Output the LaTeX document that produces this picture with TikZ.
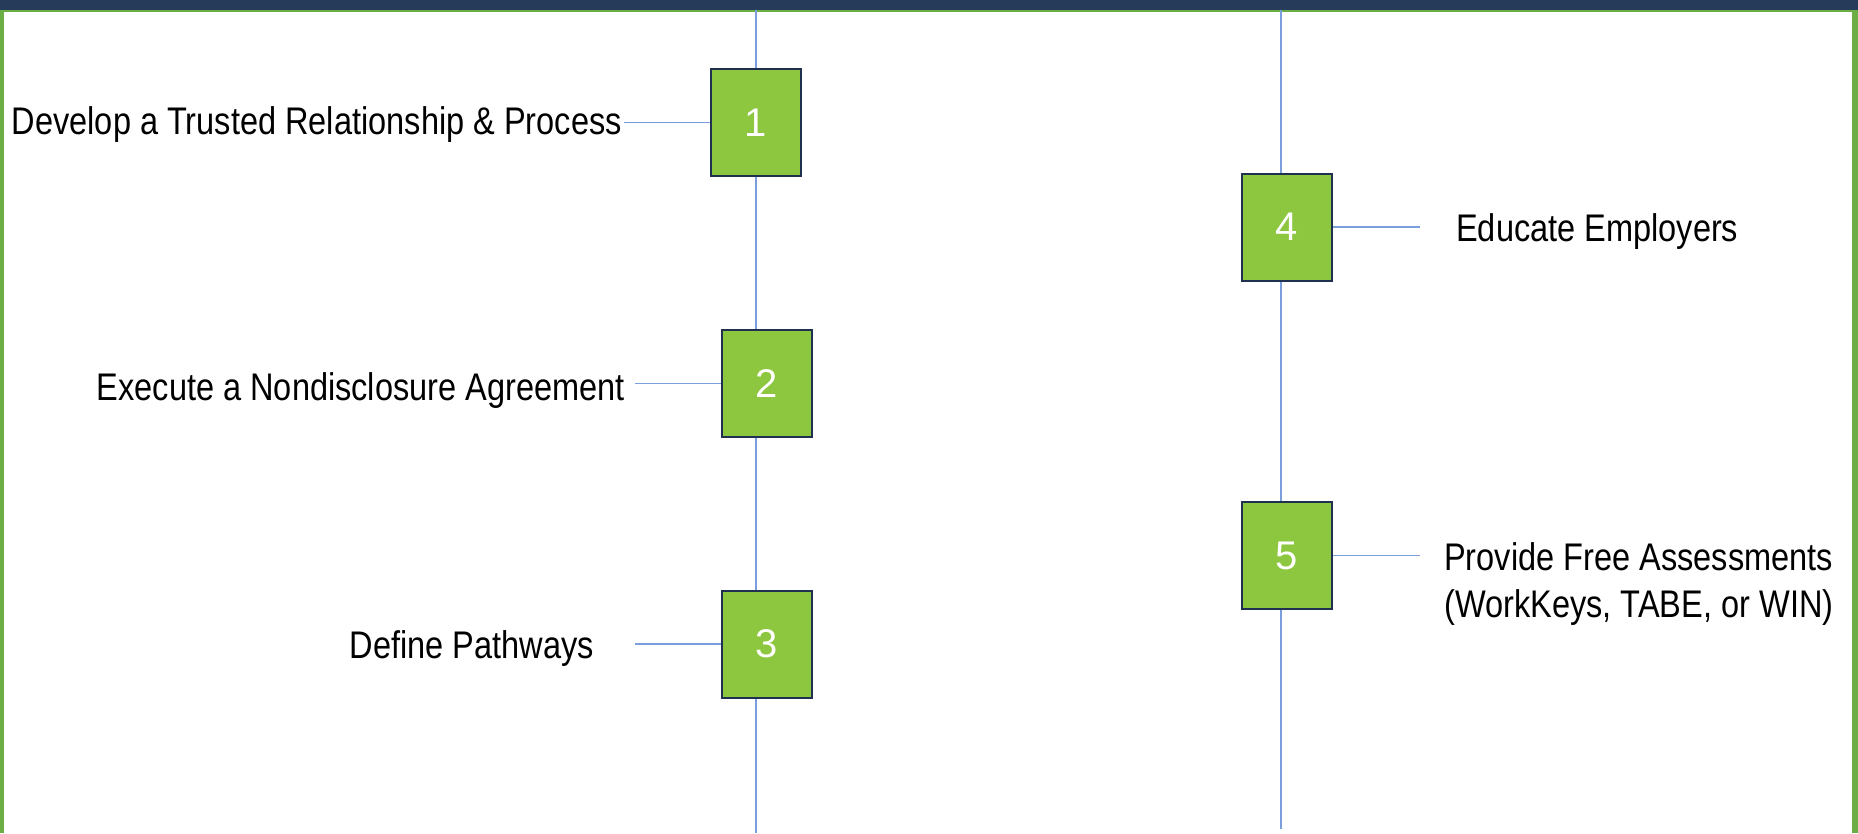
\documentclass[tikz,border=0pt]{standalone}
\usepackage{fontspec}
\setmainfont[FakeStretch=0.845]{Liberation Sans}
\newfontfamily\numfont{Liberation Sans}
\definecolor{navybar}{HTML}{263A5A}
\definecolor{framegreen}{HTML}{6AAE45}
\definecolor{boxfill}{HTML}{8DC63F}
\definecolor{boxedge}{HTML}{1F3050}
\definecolor{linkblue}{HTML}{7A9FDC}
\tikzset{
  stepbox/.style={draw=boxedge, line width=2pt, fill=boxfill, minimum width=90pt, minimum height=107pt, inner sep=0pt, text=white, font=\numfont\fontsize{40}{48}\selectfont},
  steptext/.style={inner sep=0pt, text=black, font=\fontsize{38.5}{47}\selectfont},
  link/.style={draw=linkblue, line width=1.3pt}
}
\begin{document}
\begin{tikzpicture}[x=1pt,y=-1pt]
\useasboundingbox (0,0) rectangle (1858,833);
\fill[white] (0,0) rectangle (1858,833);
\fill[navybar] (0,0) rectangle (1858,9.5);
\fill[framegreen] (0,9.5) rectangle (1858,12);
\fill[framegreen] (0,9.5) rectangle (3.5,833);
\fill[framegreen] (1852,9.5) rectangle (1858,833);
% timelines
\coordinate (v1top) at (756,9.5);
\coordinate (v1bot) at (756,833);
\coordinate (v2top) at (1281,9.5);
\coordinate (v2bot) at (1281,829);
\draw[link] (v1top) -- (v1bot);
\draw[link] (v2top) -- (v2bot);
% step boxes
\node[stepbox] (b1) at (756,122.5) {1};
\node[stepbox] (b2) at (766.5,383.5) {2};
\node[stepbox] (b3) at (766.5,644) {3};
\node[stepbox] (b4) at (1286.5,227) {4};
\node[stepbox] (b5) at (1286.5,555.5) {5};
% labels
\node[steptext, anchor=base east] (t1) at (622,134) {Develop a Trusted Relationship \& Process};
\node[steptext, anchor=base east] (t2) at (625,400) {Execute a Nondisclosure Agreement};
\node[steptext, anchor=base east] (t3) at (594,658) {Define Pathways};
\node[steptext, anchor=base west] (t4) at (1456,241.5) {Educate Employers};
\node[steptext, anchor=base west, align=left] (t5) at (1444,617) {Provide Free Assessments\\(WorkKeys, TABE, or WIN)};
% connectors
\coordinate (c1) at (624,122.5);
\coordinate (c2) at (635,383.5);
\coordinate (c3) at (635,644);
\coordinate (c4) at (1420,227);
\coordinate (c5) at (1420,555.5);
\draw[link] (c1) -- (b1.west);
\draw[link] (c2) -- (b2.west);
\draw[link] (c3) -- (b3.west);
\draw[link] (b4.east) -- (c4);
\draw[link] (b5.east) -- (c5);
\end{tikzpicture}
\end{document}
